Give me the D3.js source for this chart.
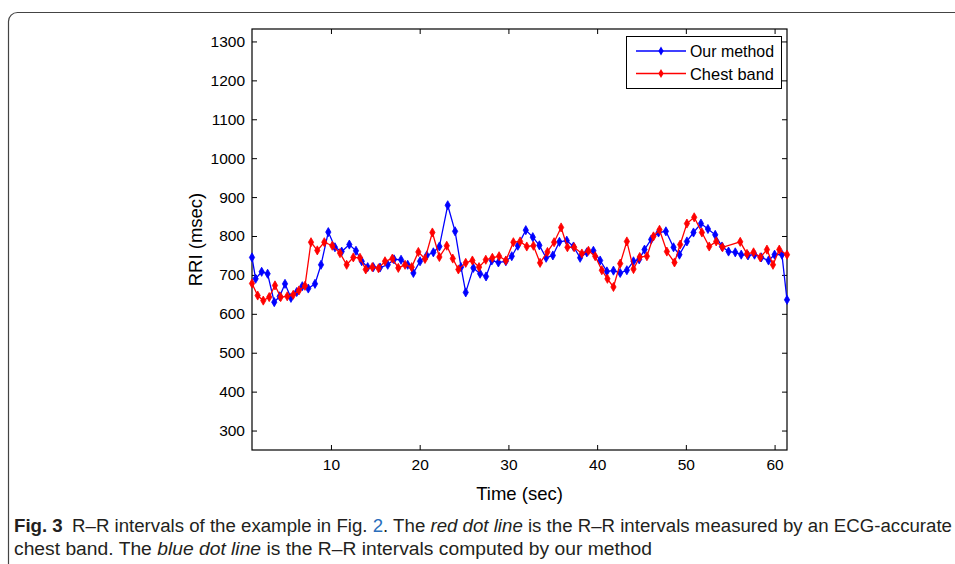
<!DOCTYPE html>
<html>
<head>
<meta charset="utf-8">
<script src="https://cdn.jsdelivr.net/npm/d3@7"></script>
<style>
    body { margin: 0; background: #fff; }
    svg { display: block; }
    .tick text { font-family: "Liberation Sans Narrow", "Liberation Sans", Arial, sans-serif; font-size: 15.5px; fill: #000; }
    .tick line { stroke: #000; }
</style>
</head>
<body>
<div id="chart"></div>
<script>
// R-R intervals (time in sec, RRI in msec)
const ourTime = [1.1, 1.51, 2.19, 2.86, 3.61, 4.22, 4.82, 5.49, 6.14, 6.77, 7.44, 8.20, 8.88, 9.70, 10.45, 11.21,
    12.07, 12.82, 13.47, 14.14, 14.77, 15.53, 16.40, 17.11, 17.90, 18.65, 19.29, 20.04, 20.80, 21.54, 22.22, 23.16,
    23.99, 24.66, 25.19, 26.05, 26.81, 27.48, 28.13, 28.87, 29.71, 30.38, 31.06, 31.96, 32.75, 33.49, 34.25, 35.01,
    35.75, 36.58, 37.33, 38.08, 38.84, 39.58, 40.34, 41.10, 41.84, 42.60, 43.35, 44.10, 44.74, 45.34, 46.09, 46.92,
    47.75, 48.61, 49.28, 50.12, 50.86, 51.70, 52.49, 53.31, 54.07, 54.81, 55.57, 56.24, 57.00, 57.74, 58.50, 59.32,
    60.00, 60.83, 61.4];
const ourRRI = [745, 690, 708, 703, 630, 645, 677, 641, 656, 671, 665, 677, 726, 810, 771, 760,
    778, 762, 735, 720, 720, 719, 726, 740, 739, 726, 705, 735, 750, 758, 773, 879,
    812, 720, 655, 718, 703, 696, 737, 732, 735, 748, 775, 815, 797, 776, 744, 750,
    785, 788, 773, 744, 758, 762, 737, 709, 711, 705, 712, 735, 740, 765, 791, 809,
    812, 771, 752, 786, 809, 832, 818, 803, 773, 760, 758, 752, 750, 752, 745, 737,
    752, 752, 636];

const chestTime = [1.1, 1.74, 2.37, 3.04, 3.69, 4.33, 5.07, 5.75, 6.39, 7.07, 7.75, 8.46, 9.25, 10.15, 11.02, 11.77,
    12.52, 13.27, 13.92, 14.66, 15.36, 16.09, 16.92, 17.59, 18.35, 19.10, 19.85, 20.60, 21.43, 22.22, 23.05, 23.73,
    24.36, 25.19, 25.94, 26.69, 27.45, 28.19, 28.95, 29.71, 30.56, 31.32, 32.07, 32.82, 33.57, 34.40, 35.15, 35.94,
    36.65, 37.41, 38.28, 39.02, 39.78, 40.53, 41.16, 41.84, 42.60, 43.35, 44.10, 44.80, 45.61, 46.35, 47.03, 47.86,
    48.72, 49.36, 50.12, 50.94, 51.81, 52.63, 53.42, 54.13, 56.13, 56.89, 57.63, 58.39, 59.14, 59.82, 60.53, 61.4];
const chestRRI = [678, 647, 634, 643, 673, 643, 645, 649, 660, 672, 784, 763, 784, 775, 756, 726,
    745, 744, 714, 720, 717, 735, 742, 718, 726, 720, 759, 741, 809, 746, 775, 742,
    714, 731, 737, 720, 739, 744, 748, 737, 784, 786, 773, 775, 731, 759, 784, 822,
    771, 771, 755, 762, 748, 712, 690, 669, 729, 786, 715, 746, 748, 799, 816, 760,
    732, 778, 832, 848, 809, 773, 786, 771, 785, 754, 758, 745, 765, 726, 765, 752];

const yTicks = [300, 400, 500, 600, 700, 800, 900, 1000, 1100, 1200, 1300];
const xTicks = [10, 20, 30, 40, 50, 60];
const seriesNames = ['Our method', 'Chest band'];
const seriesColors = ['#0000ff', '#ff0000'];

const width = 955;
const height = 564;
const plot = { left: 252, right: 787, top: 29, bottom: 450 };
const labelFont = '"Liberation Sans Narrow", "Liberation Sans", Arial, sans-serif';

function drawChart() {
    const svg = d3.select('#chart')
        .append('svg')
        .attr('width', width)
        .attr('height', height);

    // figure frame (rounded, runs off the page right and bottom)
    svg.append('rect')
        .attr('x', 8.5).attr('y', 12.5)
        .attr('width', 1000).attr('height', 700)
        .attr('rx', 9)
        .attr('fill', 'none')
        .attr('stroke', '#444')
        .attr('stroke-width', 1.2);

    const series = [
        ourTime.map((t, i) => ({ t, v: ourRRI[i] })),
        chestTime.map((t, i) => ({ t, v: chestRRI[i] })),
    ];

    const xScale = d3.scaleLinear()
        .domain(d3.extent([...ourTime, ...chestTime]))
        .range([plot.left, plot.right]);

    const yScale = d3.scaleLinear()
        .domain([250, 1332])
        .range([plot.bottom, plot.top]);

    // axes, MATLAB style: ticks inside on all four sides
    svg.append('g')
        .attr('transform', `translate(0, ${plot.bottom})`)
        .call(d3.axisBottom(xScale).tickValues(xTicks).tickSize(-5).tickSizeOuter(0).tickPadding(9))
        .call(g => g.select('.domain').remove());

    svg.append('g')
        .attr('transform', `translate(0, ${plot.top})`)
        .call(d3.axisTop(xScale).tickValues(xTicks).tickSize(-5).tickSizeOuter(0).tickFormat(''))
        .call(g => g.select('.domain').remove());

    svg.append('g')
        .attr('transform', `translate(${plot.left}, 0)`)
        .call(d3.axisLeft(yScale).tickValues(yTicks).tickFormat(d3.format('d'))
            .tickSize(-5).tickSizeOuter(0).tickPadding(7))
        .call(g => g.select('.domain').remove());

    svg.append('g')
        .attr('transform', `translate(${plot.right}, 0)`)
        .call(d3.axisRight(yScale).tickValues(yTicks).tickSize(-5).tickSizeOuter(0).tickFormat(''))
        .call(g => g.select('.domain').remove());

    svg.append('rect')
        .attr('x', plot.left).attr('y', plot.top)
        .attr('width', plot.right - plot.left)
        .attr('height', plot.bottom - plot.top)
        .attr('fill', 'none')
        .attr('stroke', '#000')
        .attr('stroke-width', 1.2);

    // axis titles
    svg.append('text')
        .attr('x', (plot.left + plot.right) / 2)
        .attr('y', 500)
        .attr('text-anchor', 'middle')
        .style('font-family', labelFont)
        .style('font-size', '18.5px')
        .text('Time (sec)');

    svg.append('text')
        .attr('transform', `translate(202, ${(plot.top + plot.bottom) / 2}) rotate(-90)`)
        .attr('text-anchor', 'middle')
        .style('font-family', labelFont)
        .style('font-size', '18.5px')
        .text('RRI (msec)');

    // lines + markers
    const line = d3.line().x(d => xScale(d.t)).y(d => yScale(d.v));
    const marker = d3.symbol().type(d3.symbolDiamond).size(24);

    series.forEach((data, i) => {
        const g = svg.append('g');
        g.append('path')
            .datum(data)
            .attr('d', line)
            .attr('fill', 'none')
            .attr('stroke', seriesColors[i])
            .attr('stroke-width', 1.3);
        g.selectAll('path.pt')
            .data(data)
            .join('path')
            .attr('class', 'pt')
            .attr('d', marker)
            .attr('transform', d => `translate(${xScale(d.t)}, ${yScale(d.v)})`)
            .attr('fill', seriesColors[i])
            .attr('stroke', seriesColors[i])
            .attr('stroke-width', 0.8);
    });

    // legend
    const legend = svg.append('g');
    legend.append('rect')
        .attr('x', 626.5).attr('y', 36.5)
        .attr('width', 155).attr('height', 52)
        .attr('fill', '#fff')
        .attr('stroke', '#000');

    seriesNames.forEach((name, i) => {
        const y = 51 + i * 22.5;
        legend.append('line')
            .attr('x1', 636).attr('x2', 686)
            .attr('y1', y).attr('y2', y)
            .attr('stroke', seriesColors[i])
            .attr('stroke-width', 1.3);
        legend.append('path')
            .attr('d', marker)
            .attr('transform', `translate(661, ${y})`)
            .attr('fill', seriesColors[i]);
        legend.append('text')
            .attr('x', 690)
            .attr('y', y + 6)
            .attr('textLength', 84)
            .attr('lengthAdjust', 'spacingAndGlyphs')
            .style('font-family', labelFont)
            .style('font-size', '17px')
            .text(name);
    });

    // caption
    const capFont = '"Liberation Sans Narrow", "Liberation Sans", Arial, sans-serif';
    const cap1 = svg.append('text')
        .attr('x', 14).attr('y', 532)
        .attr('textLength', 938)
        .attr('lengthAdjust', 'spacingAndGlyphs')
        .style('font-family', capFont)
        .style('font-size', '18px')
        .attr('fill', '#231f20');
    cap1.append('tspan').style('font-weight', 'bold').text('Fig. 3');
    cap1.append('tspan').text('\u2002R\u2013R intervals of the example in Fig. ');
    cap1.append('tspan').attr('fill', '#2a6ebb').text('2');
    cap1.append('tspan').text('. The ');
    cap1.append('tspan').style('font-style', 'italic').text('red dot line');
    cap1.append('tspan').text(' is the R\u2013R intervals measured by an ECG-accurate');

    const cap2 = svg.append('text')
        .attr('x', 14).attr('y', 555)
        .attr('textLength', 638)
        .attr('lengthAdjust', 'spacingAndGlyphs')
        .style('font-family', capFont)
        .style('font-size', '18px')
        .attr('fill', '#231f20');
    cap2.append('tspan').text('chest band. The ');
    cap2.append('tspan').style('font-style', 'italic').text('blue dot line');
    cap2.append('tspan').text(' is the R\u2013R intervals computed by our method');
}

document.addEventListener('DOMContentLoaded', drawChart);
</script>
</body>
</html>
